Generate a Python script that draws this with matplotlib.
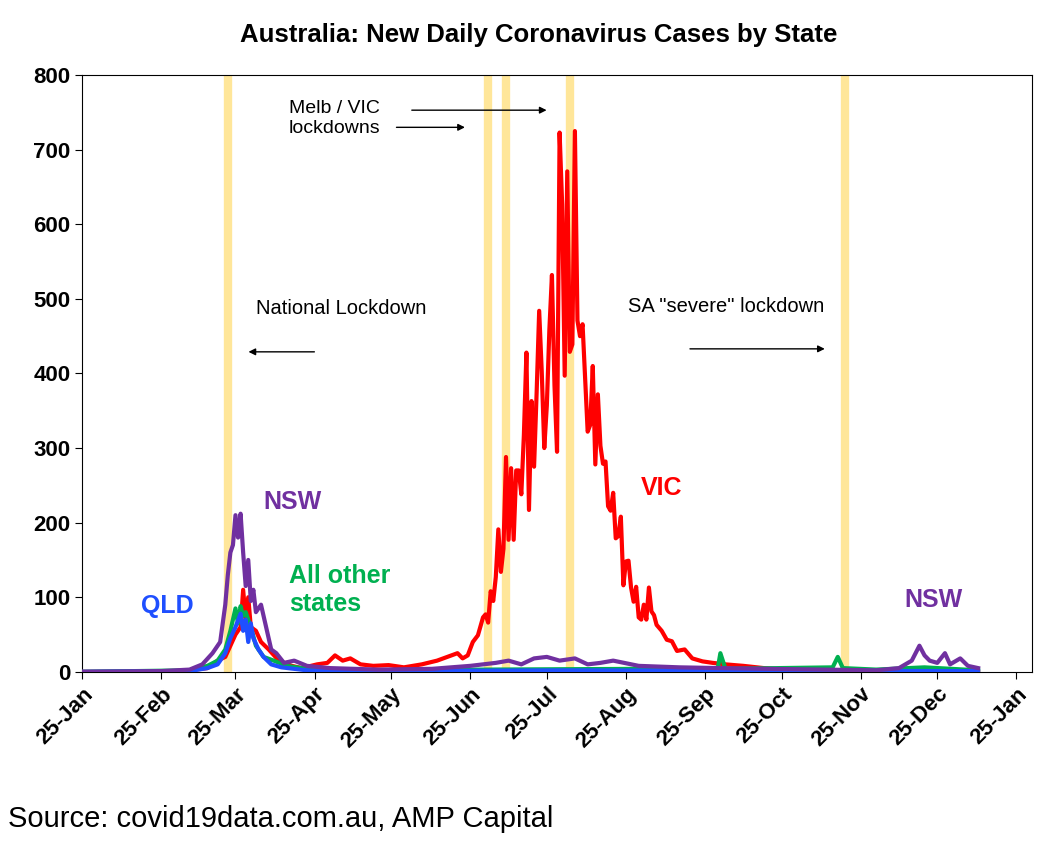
import matplotlib
matplotlib.use("Agg")
import matplotlib.pyplot as plt
import matplotlib.dates as mdates
import pandas as pd

plt.rcParams['font.family'] = ['Liberation Sans', 'DejaVu Sans']

# VIC daily cases
vic_dates = ["2020-01-25", "2020-02-25", "2020-03-07", "2020-03-14", "2020-03-18", "2020-03-21", "2020-03-23",
             "2020-03-25", "2020-03-27", "2020-03-28", "2020-03-29", "2020-03-30", "2020-03-31", "2020-04-02",
             "2020-04-04", "2020-04-07", "2020-04-11", "2020-04-16", "2020-04-20", "2020-04-26", "2020-04-30",
             "2020-05-03", "2020-05-06", "2020-05-09", "2020-05-13", "2020-05-18", "2020-05-24", "2020-05-30",
             "2020-06-06", "2020-06-12", "2020-06-16", "2020-06-20", "2020-06-22", "2020-06-24", "2020-06-26",
             "2020-06-28", "2020-06-30", "2020-07-01", "2020-07-02", "2020-07-03", "2020-07-04", "2020-07-05",
             "2020-07-06", "2020-07-07", "2020-07-08", "2020-07-09", "2020-07-10", "2020-07-11", "2020-07-12",
             "2020-07-13", "2020-07-14", "2020-07-15", "2020-07-16", "2020-07-17", "2020-07-18", "2020-07-19",
             "2020-07-20", "2020-07-21", "2020-07-22", "2020-07-23", "2020-07-24", "2020-07-25", "2020-07-26",
             "2020-07-27", "2020-07-28", "2020-07-29", "2020-07-30", "2020-07-31", "2020-08-01", "2020-08-02",
             "2020-08-03", "2020-08-04", "2020-08-05", "2020-08-06", "2020-08-07", "2020-08-08", "2020-08-09",
             "2020-08-10", "2020-08-11", "2020-08-12", "2020-08-13", "2020-08-14", "2020-08-15", "2020-08-16",
             "2020-08-17", "2020-08-18", "2020-08-19", "2020-08-20", "2020-08-21", "2020-08-22", "2020-08-23",
             "2020-08-24", "2020-08-25", "2020-08-26", "2020-08-27", "2020-08-28", "2020-08-29", "2020-08-30",
             "2020-08-31", "2020-09-01", "2020-09-02", "2020-09-03", "2020-09-04", "2020-09-05", "2020-09-06",
             "2020-09-08", "2020-09-10", "2020-09-12", "2020-09-14", "2020-09-17", "2020-09-20", "2020-09-24",
             "2020-09-28", "2020-10-03", "2020-10-10", "2020-10-18", "2020-10-25", "2020-11-05", "2020-11-20",
             "2020-12-10", "2021-01-10"]
vic_vals = [0, 0, 2, 5, 15, 20, 35, 50, 60, 110, 70, 100, 60, 55,
            40, 30, 15, 8, 5, 10, 12, 22, 15, 18, 10, 8, 9, 6,
            10, 15, 20, 25, 18, 22, 40, 49, 73, 77, 66, 108, 95, 127,
            191, 134, 165, 288, 177, 273, 177, 270, 270, 238, 317, 428, 217, 363,
            275, 374, 484, 403, 300, 357, 459, 532, 384, 295, 723, 627, 397, 671,
            429, 439, 725, 471, 450, 466, 394, 322, 331, 410, 278, 372, 303, 279,
            282, 222, 216, 240, 179, 182, 208, 116, 148, 149, 113, 94, 114, 73,
            70, 90, 70, 113, 81, 76, 63, 55, 43, 41, 28, 30, 18, 14,
            12, 10, 8, 5, 3, 2, 1, 0, 0]

nsw_dates = ["2020-01-25", "2020-02-25", "2020-03-07", "2020-03-12", "2020-03-16", "2020-03-19", "2020-03-21",
             "2020-03-22", "2020-03-23", "2020-03-24", "2020-03-25", "2020-03-26", "2020-03-27", "2020-03-28",
             "2020-03-29", "2020-03-30", "2020-03-31", "2020-04-01", "2020-04-02", "2020-04-04", "2020-04-06",
             "2020-04-08", "2020-04-10", "2020-04-13", "2020-04-17", "2020-04-22", "2020-05-01", "2020-05-20",
             "2020-06-10", "2020-06-25", "2020-07-05", "2020-07-10", "2020-07-15", "2020-07-20", "2020-07-25",
             "2020-07-30", "2020-08-05", "2020-08-10", "2020-08-15", "2020-08-20", "2020-08-30", "2020-09-15",
             "2020-10-01", "2020-10-20", "2020-11-10", "2020-12-01", "2020-12-10", "2020-12-15", "2020-12-18",
             "2020-12-20", "2020-12-22", "2020-12-25", "2020-12-28", "2020-12-30", "2021-01-03", "2021-01-06",
             "2021-01-10"]
nsw_vals = [0, 1, 3, 10, 25, 40, 90, 130, 160, 170, 210, 180, 212, 160,
            115, 150, 95, 110, 80, 90, 60, 30, 25, 12, 15, 8, 5, 3,
            4, 8, 12, 15, 10, 18, 20, 15, 18, 10, 12, 15, 8, 6,
            5, 4, 3, 2, 5, 15, 35, 22, 15, 12, 25, 10, 18, 8, 5]

qld_dates = ["2020-01-25", "2020-03-07", "2020-03-14", "2020-03-18", "2020-03-21", "2020-03-23", "2020-03-25",
             "2020-03-27", "2020-03-28", "2020-03-29", "2020-03-30", "2020-03-31", "2020-04-01", "2020-04-03",
             "2020-04-05", "2020-04-08", "2020-04-12", "2020-04-22", "2020-05-10", "2020-08-01", "2021-01-10"]
qld_vals = [0, 1, 5, 10, 25, 45, 60, 78, 55, 70, 40, 65, 45, 30,
            20, 10, 6, 2, 1, 2, 1]

oth_dates = ["2020-01-25", "2020-03-07", "2020-03-14", "2020-03-18", "2020-03-21", "2020-03-23", "2020-03-25",
             "2020-03-26", "2020-03-27", "2020-03-28", "2020-03-29", "2020-03-31", "2020-04-02", "2020-04-05",
             "2020-04-09", "2020-04-14", "2020-04-22", "2020-05-10", "2020-07-01", "2020-09-01", "2020-09-30",
             "2020-10-01", "2020-10-03", "2020-11-14", "2020-11-16", "2020-11-18", "2020-12-01", "2020-12-20",
             "2021-01-10"]
oth_vals = [0, 2, 8, 15, 30, 55, 85, 65, 88, 75, 80, 60, 35, 20,
            15, 8, 4, 2, 3, 4, 5, 25, 4, 6, 20, 5, 3, 6, 2]

lockdowns = ["2020-03-22", "2020-07-02", "2020-07-09", "2020-08-03", "2020-11-19"]
tick_dates = ["2020-01-25", "2020-02-25", "2020-03-25", "2020-04-25", "2020-05-25", "2020-06-25", "2020-07-25",
              "2020-08-25", "2020-09-25", "2020-10-25", "2020-11-25", "2020-12-25", "2021-01-25"]

fig = plt.figure(figsize=(10.56, 8.44), dpi=100)
ax = fig.add_axes([0.078, 0.204, 0.899, 0.707])

for d in lockdowns:
    ax.axvline(pd.Timestamp(d), color="#FFE699", lw=6, zorder=1)

series = [(vic_dates, vic_vals, "#FF0000"), (oth_dates, oth_vals, "#00B050"),
          (qld_dates, qld_vals, "#1F4FFF"), (nsw_dates, nsw_vals, "#7030A0")]
for ds, vs, c in series:
    ax.plot(pd.to_datetime(ds), vs, color=c, lw=3, zorder=3)

ax.set_ylim(0, 800)
ax.set_yticks(range(0, 801, 100))
ax.set_xlim(pd.Timestamp("2020-01-25"), pd.Timestamp("2021-01-31"))
ax.set_xticks(pd.to_datetime(tick_dates))
ax.xaxis.set_major_formatter(mdates.DateFormatter("%d-%b"))
plt.setp(ax.get_xticklabels(), rotation=45, ha="right", rotation_mode="anchor", fontsize=16, fontweight="bold")
plt.setp(ax.get_yticklabels(), fontsize=16, fontweight="bold")
ax.tick_params(length=5)

fig.text(0.51, 0.958, "Australia: New Daily Coronavirus Cases by State", fontsize=18.5, fontweight="bold",
         ha="center", va="center")

ax.text(pd.Timestamp("2020-04-05"), 228, "NSW", color="#7030A0", fontsize=18, fontweight="bold", va="center")
ax.text(pd.Timestamp("2020-04-15"), 110, "All other\nstates", color="#00B050", fontsize=18, fontweight="bold", va="center")
ax.text(pd.Timestamp("2020-02-17"), 88, "QLD", color="#1F4FFF", fontsize=18, fontweight="bold", va="center")
ax.text(pd.Timestamp("2020-08-31"), 246, "VIC", color="#FF0000", fontsize=18, fontweight="bold", va="center")
ax.text(pd.Timestamp("2020-12-12"), 96, "NSW", color="#7030A0", fontsize=18, fontweight="bold", va="center")

ax.text(pd.Timestamp("2020-04-02"), 480, "National Lockdown", fontsize=14.5)
ax.annotate("", xy=(pd.Timestamp("2020-03-29"), 429), xytext=(pd.Timestamp("2020-04-26"), 429),
            arrowprops=dict(arrowstyle="-|>", color="black", lw=1))
ax.text(pd.Timestamp("2020-04-15"), 742, "Melb / VIC\nlockdowns", fontsize=14, va="center")
ax.annotate("", xy=(pd.Timestamp("2020-06-24"), 730), xytext=(pd.Timestamp("2020-05-26"), 730),
            arrowprops=dict(arrowstyle="-|>", color="black", lw=1))
ax.annotate("", xy=(pd.Timestamp("2020-07-26"), 753), xytext=(pd.Timestamp("2020-06-01"), 753),
            arrowprops=dict(arrowstyle="-|>", color="black", lw=1))
ax.text(pd.Timestamp("2020-08-26"), 483, "SA \"severe\" lockdown", fontsize=14.5)
ax.annotate("", xy=(pd.Timestamp("2020-11-12"), 433), xytext=(pd.Timestamp("2020-09-18"), 433),
            arrowprops=dict(arrowstyle="-|>", color="black", lw=1))

fig.text(0.008, 0.02, "Source: covid19data.com.au, AMP Capital", fontsize=21)

fig.savefig("out.png", dpi=100)
